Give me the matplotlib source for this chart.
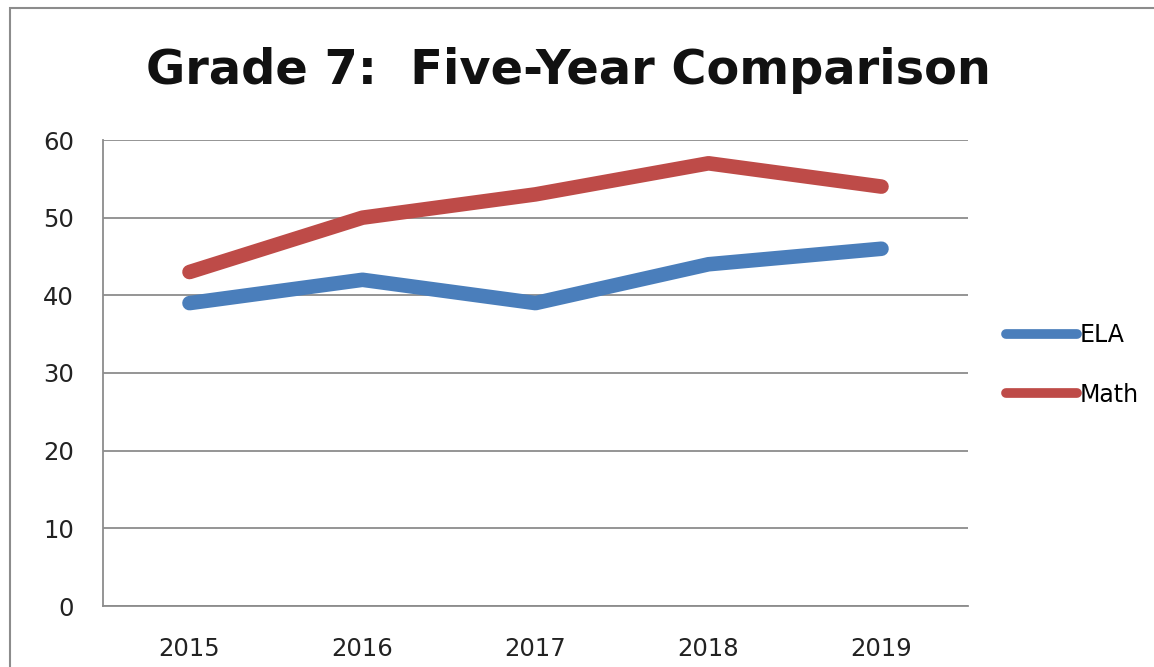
import matplotlib
matplotlib.use("Agg")
import matplotlib.pyplot as plt
from matplotlib.patches import Rectangle

years = ["2015", "2016", "2017", "2018", "2019"]
ela = [39, 42, 39, 44, 46]
math_scores = [43, 50, 53, 57, 54]
yticks = [0, 10, 20, 30, 40, 50, 60]

blue = "#4a7ebb"
red = "#be4b48"
grid_c = "#8c8c8c"

fig = plt.figure(figsize=(11.54, 6.67), dpi=100)
ax = fig.add_axes([103/1154, 1-606/667, (968-103)/1154, (606-140)/667])

x = list(range(len(years)))
ax.plot(x, ela, color=blue, lw=10.5, solid_capstyle="round", solid_joinstyle="round", label="ELA")
ax.plot(x, math_scores, color=red, lw=10.5, solid_capstyle="round", solid_joinstyle="round", label="Math")

ax.set_xlim(-0.5, len(years) - 0.5)
ax.set_ylim(0, 60)
ax.set_yticks(yticks)
ax.set_xticks(x)
ax.set_xticklabels(years)
ax.yaxis.grid(True, color=grid_c, lw=1.3)
ax.set_axisbelow(True)
for s in ["top", "right"]:
    ax.spines[s].set_visible(False)
for s in ["left", "bottom"]:
    ax.spines[s].set_color(grid_c)
    ax.spines[s].set_linewidth(1.3)
ax.tick_params(axis="both", length=0, labelsize=17.5, colors="#222222")
ax.tick_params(axis="y", pad=21)
ax.tick_params(axis="x", pad=22)

fig.text(568/1154, 1-70/667, "Grade 7:  Five-Year Comparison", ha="center", va="center",
         fontsize=34.5, fontweight="bold", color="#111111")

leg = fig.legend(loc="center left", bbox_to_anchor=(1006/1154, 1-365/667), frameon=False,
                 fontsize=17, handlelength=3.0, handletextpad=0.12, labelspacing=1.5,
                 borderpad=0, borderaxespad=0)
for ln in leg.get_lines():
    ln.set_linewidth(7)
    ln.set_solid_capstyle("round")

fig.patches.append(Rectangle((10/1154, -0.2), 1.5, 1.2 - 8/667, transform=fig.transFigure,
                             fill=False, edgecolor="#8c8c8c", lw=1.5))

fig.savefig("out.png", dpi=100, facecolor="white")
